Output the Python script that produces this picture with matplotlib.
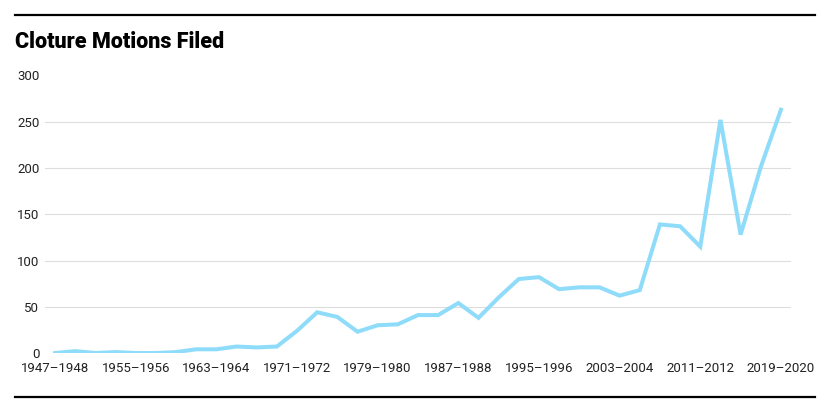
import matplotlib.pyplot as plt
from matplotlib.lines import Line2D

# cloture motions filed per Congress
congresses = ["1947–1948", "1949–1950", "1951–1952", "1953–1954", "1955–1956",
              "1957–1958", "1959–1960", "1961–1962", "1963–1964", "1965–1966",
              "1967–1968", "1969–1970", "1971–1972", "1973–1974", "1975–1976",
              "1977–1978", "1979–1980", "1981–1982", "1983–1984", "1985–1986",
              "1987–1988", "1989–1990", "1991–1992", "1993–1994", "1995–1996",
              "1997–1998", "1999–2000", "2001–2002", "2003–2004", "2005–2006",
              "2007–2008", "2009–2010", "2011–2012", "2013–2014", "2015–2016",
              "2017–2018", "2019–2020"]
motions = [0, 2, 0, 1, 0, 0, 1, 4, 4, 7, 6, 7, 24, 44, 39, 23, 30, 31, 41, 41,
           54, 38, 60, 80, 82, 69, 71, 71, 62, 68, 139, 137, 115, 252, 128, 201, 263]
yticks = [0, 50, 100, 150, 200, 250, 300]

plt.rcParams['font.family'] = ['Roboto', 'DejaVu Sans']

fig = plt.figure(figsize=(8.27, 4.17), dpi=100)
ax = fig.add_axes([45/827, 1-353/417, (791-45)/827, (353-75.5)/417])

x = list(range(len(congresses)))
ax.plot(x, motions, color="#8fdcfa", lw=2.9, solid_joinstyle="miter", zorder=3)

ax.set_xlim(-0.5, len(congresses) - 0.5)
ax.set_ylim(0, 300)
ax.set_yticks(yticks)
ax.set_yticklabels([str(v) for v in yticks], fontsize=9.5, color="#222222")
ax.set_xticks(x[::4])
ax.set_xticklabels(congresses[::4], fontsize=9.5, color="#222222")
ax.tick_params(axis="both", length=0)
ax.tick_params(axis="y", pad=4)
ax.tick_params(axis="x", pad=6.5)

for v in yticks[1:-1]:
    ax.axhline(v, color="#dddddd", lw=0.8, zorder=1)

for s in ax.spines.values():
    s.set_visible(False)

# rules and title
fig.add_artist(Line2D([15/827, 815/827], [1-15/417, 1-15/417], color="black", lw=1.6))
fig.add_artist(Line2D([15/827, 815/827], [1-397/417, 1-397/417], color="black", lw=1.6))
fig.text(15/827, 1-42/417, "Cloture Motions Filed", fontsize=15.5, fontweight="black",
         va="center", ha="left", color="black")

fig.savefig("out.png", dpi=100)
